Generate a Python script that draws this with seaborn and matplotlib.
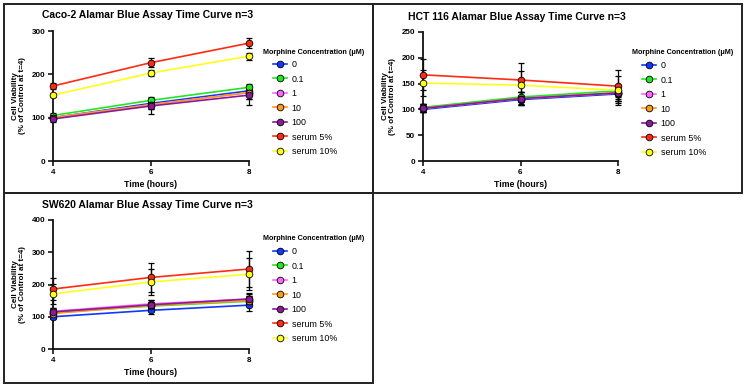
import numpy as np
import pandas as pd
import matplotlib
matplotlib.use("Agg")
import matplotlib.pyplot as plt
from matplotlib.lines import Line2D
from matplotlib.patches import Rectangle
import seaborn as sns

# === data ===================================================================
times = [4, 6, 8]
groups = ["0", "0.1", "1", "10", "100", "serum 5%", "serum 10%"]
colors = ["#1238ff", "#22e622", "#ff66ff", "#ff9a1a", "#8a1a9a", "#ff2a12", "#ffff1a"]

# Caco-2
caco_mean = {
    "0": [100, 133, 162], "0.1": [105, 140, 170], "1": [100, 130, 158],
    "10": [100, 130, 158], "100": [97, 127, 152],
    "serum 5%": [173, 227, 272], "serum 10%": [152, 203, 242],
}
caco_sd = {
    "0": [5, 8, 10], "0.1": [5, 8, 8], "1": [5, 10, 15], "10": [5, 10, 15],
    "100": [8, 18, 22], "serum 5%": [6, 10, 12], "serum 10%": [5, 6, 8],
}
# HCT 116
hct_mean = {
    "0": [100, 119, 130], "0.1": [104, 124, 136], "1": [102, 121, 132],
    "10": [102, 121, 132], "100": [102, 121, 132],
    "serum 5%": [167, 157, 145], "serum 10%": [151, 147, 137],
}
hct_sd = {
    "0": [5, 8, 10], "0.1": [6, 10, 12], "1": [8, 12, 15], "10": [8, 12, 15],
    "100": [8, 12, 15], "serum 5%": [30, 32, 32], "serum 10%": [25, 28, 28],
}
# SW620
sw_mean = {
    "0": [100, 120, 136], "0.1": [113, 133, 148], "1": [117, 140, 155],
    "10": [110, 135, 150], "100": [115, 137, 155],
    "serum 5%": [186, 222, 248], "serum 10%": [171, 208, 232],
}
sw_sd = {
    "0": [8, 12, 18], "0.1": [10, 12, 15], "1": [10, 12, 15], "10": [10, 12, 15],
    "100": [12, 15, 18], "serum 5%": [35, 45, 55], "serum 10%": [30, 40, 50],
}

titles = ["Caco-2 Alamar Blue Assay Time Curve n=3",
          "HCT 116 Alamar Blue Assay Time Curve n=3",
          "SW620 Alamar Blue Assay Time Curve n=3"]
ymax = [300, 250, 400]
ystep = [100, 50, 100]

# === figure =================================================================
W, H = 747, 387
plt.rcParams['font.family'] = ['Liberation Sans', 'DejaVu Sans']
fig = plt.figure(figsize=(W / 100, H / 100), dpi=100)
fig.patch.set_facecolor("white")

def fx(px):
    return px / W

def fy(py):
    return 1 - py / H

# frames round the panels (pixels: left, top, right, bottom)
for l, t, r, b in [(4, 4, 373, 193), (373, 4, 742, 193), (4, 193, 373, 383)]:
    fig.patches.append(Rectangle((fx(l), fy(b)), fx(r) - fx(l), fy(t) - fy(b),
                                 transform=fig.transFigure, fill=False,
                                 edgecolor="#222222", lw=1.4))

# axes positions in pixels: left, top(max), right, bottom(0); legend title pos
panels = [
    (caco_mean, caco_sd, (53, 31, 249, 161), (263, 52)),
    (hct_mean, hct_sd, (423, 32, 618, 161), (632, 53)),
    (sw_mean, sw_sd, (53, 220, 249, 349), (263, 239)),
]

ms = 4.8
for i, (means, sds, (l, t, r, b), (lx, ly)) in enumerate(panels):
    ax = fig.add_axes([fx(l), fy(b), fx(r) - fx(l), fy(t) - fy(b)])
    rows = []
    for g in groups:
        for k, tm in enumerate(times):
            rows.append({"time": tm, "viability": means[g][k], "sd": sds[g][k], "group": g})
    df = pd.DataFrame(rows)

    for g in groups:
        sub = df[df["group"] == g]
        ax.errorbar(sub["time"], sub["viability"], yerr=sub["sd"], fmt="none",
                    ecolor="black", elinewidth=0.9, capsize=2, capthick=0.9,
                    zorder=2, clip_on=False)

    sns.lineplot(data=df, x="time", y="viability", hue="group", hue_order=groups,
                 palette=dict(zip(groups, colors)), marker="o", markersize=ms,
                 markeredgecolor="black", markeredgewidth=0.6, linewidth=1.2,
                 legend=False, ax=ax, zorder=3)
    for ln in ax.lines:
        ln.set_clip_on(False)

    ax.set_xlim(4, 8)
    ax.set_ylim(0, ymax[i])
    ax.set_xticks(times)
    ax.set_yticks(np.arange(0, ymax[i] + 1, ystep[i]))
    ax.spines["top"].set_visible(False)
    ax.spines["right"].set_visible(False)
    for s in ["left", "bottom"]:
        ax.spines[s].set_linewidth(1.3)
        ax.spines[s].set_color("#111111")
    ax.tick_params(length=3.5, width=1.1, labelsize=5.8, pad=2)
    for lab in ax.get_xticklabels() + ax.get_yticklabels():
        lab.set_fontweight("bold")
    ax.set_xlabel("Time (hours)", fontsize=6.3, fontweight="bold", labelpad=3)
    ax.set_ylabel("Cell Viability\n(% of Control at t=4)", fontsize=5.8,
                  fontweight="bold", labelpad=4, linespacing=1.1)
    ax.set_title(titles[i], fontsize=7.5, fontweight="bold", pad=9, x=0.48)

    # legend: title as text, entries indented below it
    fig.text(fx(lx), fy(ly), "Morphine Concentration (μM)", fontsize=5.2,
             fontweight="bold", ha="left", va="center")
    handles = [Line2D([0], [0], color=c, lw=1.2, marker="o", markersize=ms,
                      markeredgecolor="black", markeredgewidth=0.6) for c in colors]
    fig.legend(handles, groups, loc="upper left",
               bbox_to_anchor=(fx(lx + 10), fy(ly + 8)), frameon=False,
               fontsize=6.4, handlelength=1.55, handletextpad=0.55,
               labelspacing=0.62, borderpad=0, borderaxespad=0)

fig.savefig("out.png", dpi=100, facecolor="white")
